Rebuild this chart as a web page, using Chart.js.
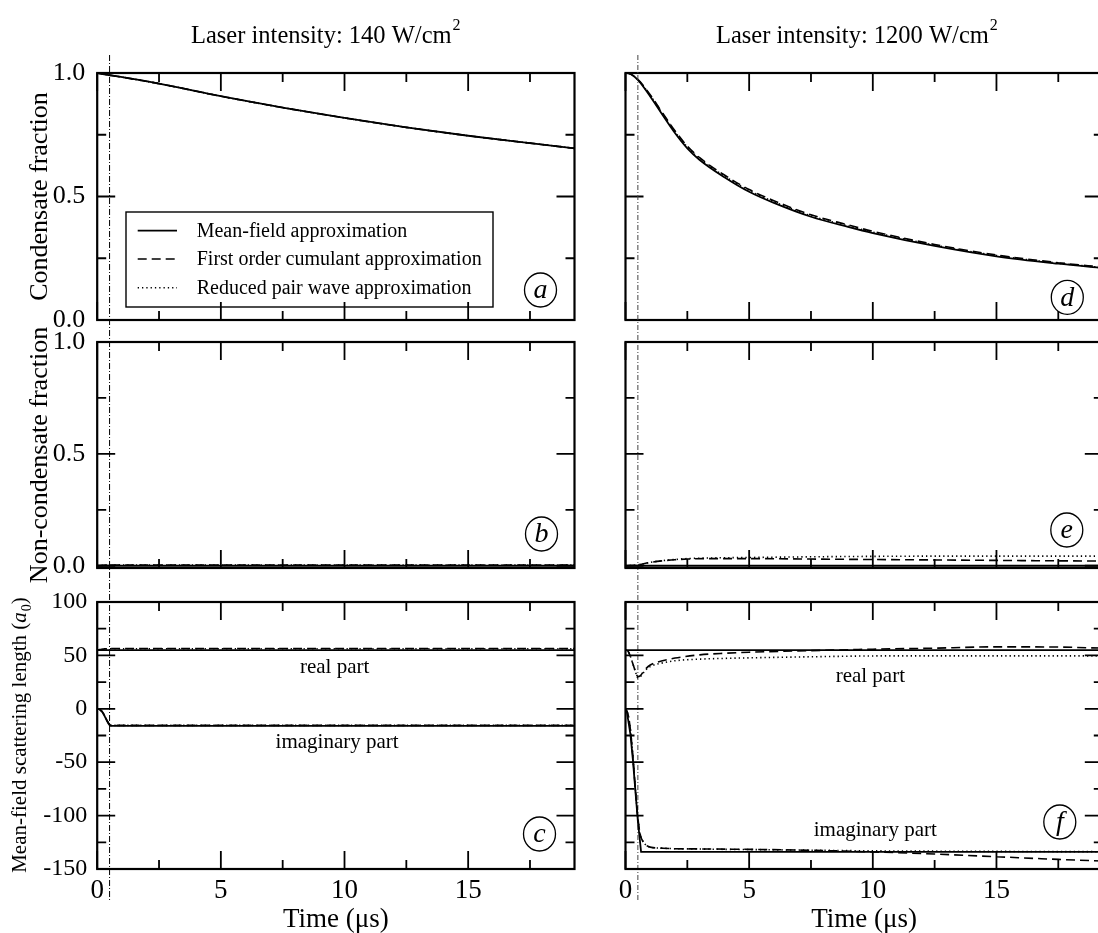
<!DOCTYPE html>
<html><head><meta charset="utf-8">
<script src="https://cdn.jsdelivr.net/npm/chart.js@4.4.1/dist/chart.umd.min.js"></script>
<style>
html,body{margin:0;padding:0;background:#fff;overflow:hidden;width:1098px;height:933px;}
canvas{position:absolute;left:0;top:0;}
</style></head><body>
<canvas id="pa" width="1110" height="940"></canvas>
<canvas id="pb" width="1110" height="940"></canvas>
<canvas id="pc" width="1110" height="940"></canvas>
<canvas id="pd" width="1110" height="940"></canvas>
<canvas id="pe" width="1110" height="940"></canvas>
<canvas id="pf" width="1110" height="940"></canvas>
<script>
// ---------------- data ----------------
const timeMax = 19.3;
const pulseEnd = 0.5;
const xMajor = [0, 5, 10, 15];
const xMinor = [2.5, 7.5, 12.5, 17.5];
const fracMajor = [0, 0.5, 1];
const fracMinor = [0.25, 0.75];
const scatMajor = [-150, -100, -50, 0, 50, 100];
const scatMinor = [-125, -75, -25, 25, 75];
const legendNames = ['Mean-field approximation', 'First order cumulant approximation', 'Reduced pair wave approximation'];
const columnTitles = ['Laser intensity: 140 W/cm', 'Laser intensity: 1200 W/cm'];
const titleSup = '2';
const yTitles = ['Condensate fraction', 'Non-condensate fraction'];
const scatTitle = ['Mean-field scattering length (', 'a', '0', ')'];
const xTitle = 'Time (\u03bcs)';
const partLabels = ['real part', 'imaginary part'];
const panelLetters = ['a', 'b', 'c', 'd', 'e', 'f'];

// (a) condensate fraction, 140 W/cm^2
const tA = [0, 2.5, 5, 7.5, 10, 12.5, 15, 17.5, 19.3];
const condLowMF  = [1.0, 0.957, 0.906, 0.860, 0.818, 0.780, 0.746, 0.716, 0.695];
const condLowFOC = [1.0, 0.957, 0.906, 0.860, 0.818, 0.780, 0.746, 0.716, 0.695];
const condLowRPW = [1.0, 0.957, 0.906, 0.860, 0.818, 0.780, 0.746, 0.716, 0.695];

// (b) non-condensate fraction, 140 W/cm^2
const tB = [0, 0.25, 0.5, 1, 19.3];
const nonLowMF  = [0, 0, 0, 0, 0];
const nonLowFOC = [0, 0.002, 0.003, 0.003, 0.003];
const nonLowRPW = [0, 0.002, 0.003, 0.003, 0.003];

// (c) scattering length, 140 W/cm^2
const tC = [0, 0.1, 0.2, 0.3, 0.4, 0.5, 0.55, 19.3];
const realLowMF  = [55, 55, 55, 55, 55, 55, 55, 55];
const realLowFOC = [55, 55.4, 55.8, 56.1, 56.3, 56.4, 56.4, 56.4];
const realLowRPW = [55, 55.3, 55.6, 55.9, 56.1, 56.2, 56.2, 56.2];
const imagLowMF  = [0, -0.6, -2.8, -6.8, -11.5, -15.2, -16, -16];
const imagLowFOC = [0, -0.6, -2.8, -6.6, -11.2, -14.8, -15.5, -15.5];
const imagLowRPW = [0, -0.6, -2.8, -6.6, -11.2, -14.8, -15.5, -15.5];

// (d) condensate fraction, 1200 W/cm^2
const tD = [0, 0.2, 0.5, 1, 1.5, 2, 2.5, 3, 4, 5, 6, 7.5, 9, 10, 12.5, 15, 17.5, 19.3];
const condHighMF  = [1.0, 0.996, 0.972, 0.905, 0.830, 0.757, 0.695, 0.648, 0.578, 0.519, 0.474, 0.418, 0.377, 0.352, 0.300, 0.258, 0.228, 0.210];
const condHighFOC = [1.0, 0.996, 0.974, 0.912, 0.838, 0.766, 0.704, 0.657, 0.587, 0.528, 0.483, 0.426, 0.385, 0.359, 0.306, 0.263, 0.232, 0.214];
const condHighRPW = [1.0, 0.996, 0.973, 0.909, 0.835, 0.762, 0.700, 0.653, 0.583, 0.524, 0.479, 0.422, 0.381, 0.356, 0.303, 0.261, 0.230, 0.212];

// (e) non-condensate fraction, 1200 W/cm^2
const tE = [0, 0.5, 1, 1.5, 2, 2.5, 3.5, 5, 7.5, 10, 12.5, 15, 17.5, 19.3];
const nonHighMF  = [0, 0, 0, 0, 0, 0, 0, 0, 0, 0, 0, 0, 0, 0];
const nonHighFOC = [0, 0.004, 0.015, 0.022, 0.027, 0.030, 0.032, 0.032, 0.030, 0.028, 0.026, 0.024, 0.022, 0.021];
const nonHighRPW = [0, 0.004, 0.015, 0.023, 0.028, 0.032, 0.035, 0.037, 0.040, 0.042, 0.043, 0.043, 0.043, 0.043];

// (f) scattering length, 1200 W/cm^2
const tFmf = [0, 0.05, 0.2, 0.3, 0.4, 0.5, 0.63, 19.3];
const realHighMF = [55, 55, 55, 55, 55, 55, 55, 55];
const imagHighMF = [0, -2, -24, -48, -77, -105, -134, -134];
const tF = [0, 0.1, 0.2, 0.3, 0.4, 0.5, 0.6, 0.7, 0.8, 1, 1.5, 2, 3, 4, 5, 7.5, 10, 12.5, 15, 17.5, 19.3];
const realHighFOC = [55, 54, 49, 42, 35, 30, 31, 34, 37, 41, 45, 47.5, 50.5, 52, 53, 54.5, 55.8, 56.8, 58, 57.8, 56.8];
const realHighRPW = [55, 54, 49, 42, 35, 29, 30, 33, 36, 39.5, 43, 45, 46.5, 47.2, 47.7, 48.7, 49.5, 49.6, 49.6, 49.6, 49.6];
const imagHighFOC = [0, -5, -20, -45, -75, -102, -118, -124, -127, -129.5, -130.5, -131, -131.2, -131.4, -131.6, -132.5, -134, -136, -138.5, -141, -142.5];
const imagHighRPW = [0, -5, -20, -45, -75, -102, -118, -124, -127, -129.5, -130.5, -131, -131.3, -131.6, -131.8, -132.4, -133, -133.3, -133.5, -133.7, -133.8];

// ---------------- layout / style ----------------
const W = 1110, H = 940;
const SERIF = '"Liberation Serif", "Times New Roman", serif';
const colLeft = [97.2, 625.5], colRight = [574.5, 1102.8];
const rowTop = [73, 342, 602], rowBottom = [320, 568, 869];
const STY = [
  {dash: [], w: 1.8},
  {dash: [9, 5], w: 1.6},
  {dash: [1.3, 3], w: 1.6}
];

function ds(xs, ys, k, linear) {
  return {
    data: xs.map((x, i) => ({x: x, y: ys[i]})),
    borderColor: '#000', borderWidth: STY[k].w, borderDash: STY[k].dash,
    pointRadius: 0, fill: false,
    cubicInterpolationMode: linear ? 'default' : 'monotone',
    tension: 0
  };
}

function makeDecor(cfg) {
  return {
    id: 'decor',
    afterDraw(chart) {
      const {ctx, chartArea: ca, scales} = chart;
      const x = scales.x, y = scales.y;
      ctx.save();
      ctx.strokeStyle = '#000'; ctx.fillStyle = '#000';
      // ticks (inward, all four sides)
      ctx.setLineDash([]); ctx.lineWidth = 1.8;
      ctx.beginPath();
      const xt = (v, L) => { const p = x.getPixelForValue(v);
        ctx.moveTo(p, ca.top); ctx.lineTo(p, ca.top + L);
        ctx.moveTo(p, ca.bottom); ctx.lineTo(p, ca.bottom - L); };
      const yt = (v, L) => { const p = y.getPixelForValue(v);
        ctx.moveTo(ca.left, p); ctx.lineTo(ca.left + L, p);
        ctx.moveTo(ca.right, p); ctx.lineTo(ca.right - L, p); };
      xMajor.forEach(v => xt(v, 18)); xMinor.forEach(v => xt(v, 9));
      cfg.yMajor.forEach(v => yt(v, 18)); cfg.yMinor.forEach(v => yt(v, 9));
      ctx.stroke();
      // frame
      ctx.lineWidth = 2.2;
      ctx.strokeRect(ca.left, ca.top, ca.right - ca.left, ca.bottom - ca.top);
      // circled letter
      const lx = ca.right - cfg.letter[0], ly = ca.bottom - cfg.letter[1];
      ctx.lineWidth = 1.3;
      ctx.beginPath(); ctx.ellipse(lx, ly, 16, 17, 0, 0, Math.PI * 2); ctx.stroke();
      ctx.font = 'italic 28px ' + SERIF; ctx.textAlign = 'center'; ctx.textBaseline = 'middle';
      ctx.fillText(cfg.letterText, lx, ly + 1);
      // part labels
      if (cfg.parts) {
        ctx.font = '21px ' + SERIF;
        cfg.parts.forEach((p, i) => ctx.fillText(partLabels[i], x.getPixelForValue(p[0]), y.getPixelForValue(p[1])));
      }
      // legend
      if (cfg.legend) {
        const bx = ca.left + 28.8, by = ca.top + 139, bw = 367, bh = 95;
        ctx.lineWidth = 1.4; ctx.setLineDash([]);
        ctx.strokeRect(bx, by, bw, bh);
        const rows = [18.7, 47, 75.7];
        ctx.font = '20px ' + SERIF; ctx.textAlign = 'left'; ctx.textBaseline = 'middle';
        legendNames.forEach((n, i) => {
          ctx.setLineDash(STY[i].dash); ctx.lineWidth = STY[i].w;
          ctx.beginPath(); ctx.moveTo(bx + 11.7, by + rows[i]); ctx.lineTo(bx + 51, by + rows[i]); ctx.stroke();
          ctx.fillText(n, bx + 70.7, by + rows[i] + 1);
        });
        ctx.setLineDash([]);
      }
      // vertical dash-dot line at end of pulse, spanning the column
      if (cfg.vline) {
        const px = x.getPixelForValue(pulseEnd);
        ctx.strokeStyle = cfg.vline.color; ctx.lineWidth = 1;
        ctx.setLineDash(cfg.vline.dash);
        ctx.beginPath(); ctx.moveTo(px, 55); ctx.lineTo(px, 902); ctx.stroke();
        ctx.setLineDash([]); ctx.strokeStyle = '#000';
      }
      // column title with superscript
      if (cfg.title) {
        ctx.textAlign = 'left'; ctx.textBaseline = 'alphabetic';
        ctx.font = '24.5px ' + SERIF;
        ctx.fillText(cfg.title, cfg.titleX, 43);
        const tw = ctx.measureText(cfg.title).width;
        ctx.font = '16px ' + SERIF;
        ctx.fillText(titleSup, cfg.titleX + tw + 1, 30);
      }
      // rich rotated y title for scattering length
      if (cfg.scatTitle) {
        ctx.translate(19, (ca.top + ca.bottom) / 2);
        ctx.rotate(-Math.PI / 2);
        const segs = [
          {t: scatTitle[0], f: '21px ' + SERIF, dy: 7},
          {t: scatTitle[1], f: 'italic 21px ' + SERIF, dy: 7},
          {t: scatTitle[2], f: '14px ' + SERIF, dy: 12},
          {t: scatTitle[3], f: '21px ' + SERIF, dy: 7}
        ];
        let tot = 0;
        segs.forEach(s => { ctx.font = s.f; s.w = ctx.measureText(s.t).width; tot += s.w; });
        let xx = -tot / 2;
        ctx.textAlign = 'left'; ctx.textBaseline = 'alphabetic';
        segs.forEach(s => { ctx.font = s.f; ctx.fillText(s.t, xx, s.dy); xx += s.w + (s.t === 'a' ? 1 : 0); });
      }
      ctx.restore();
    }
  };
}

function makePanel(id, col, row, datasets, cfg) {
  const isFrac = row < 2;
  const yMajor = isFrac ? fracMajor : scatMajor;
  const yMinor = isFrac ? fracMinor : scatMinor;
  cfg.yMajor = yMajor; cfg.yMinor = yMinor;
  cfg.letterText = panelLetters[col * 3 + row];
  const yFont = isFrac ? 26 : 24;
  new Chart(document.getElementById(id), {
    type: 'line',
    data: {datasets: datasets},
    options: {
      responsive: false, animation: false, devicePixelRatio: 1,
      events: [],
      layout: {padding: {
        left: col === 0 ? 0 : colLeft[1],
        right: W - colRight[col],
        top: rowTop[row],
        bottom: row === 2 ? 0 : H - rowBottom[row]
      }},
      plugins: {legend: {display: false}, tooltip: {enabled: false}},
      scales: {
        x: {
          type: 'linear', min: 0, max: timeMax,
          grid: {display: false, drawTicks: false}, border: {display: false},
          ticks: {display: row === 2, autoSkip: false, maxRotation: 0, color: '#000', padding: 6,
                  font: {family: SERIF, size: 27}, callback: v => String(v)},
          afterBuildTicks: s => { s.ticks = xMajor.map(v => ({value: v})); },
          afterFit: s => { s.height = row === 2 ? H - rowBottom[2] : 0; },
          title: {display: row === 2, text: xTitle, color: '#000',
                  font: {family: SERIF, size: 27}, padding: {top: 0, bottom: 3.8}}
        },
        y: {
          type: 'linear', min: cfg.yMin, max: cfg.yMax,
          grid: {display: false, drawTicks: false}, border: {display: false},
          ticks: {display: col === 0, autoSkip: false, color: '#000', padding: isFrac ? 12 : 10,
                  font: {family: SERIF, size: yFont},
                  callback: v => isFrac ? v.toFixed(1) : String(v)},
          afterBuildTicks: s => { s.ticks = yMajor.map(v => ({value: v})); },
          afterFit: s => { s.width = col === 0 ? colLeft[0] : 0; },
          title: {display: col === 0 && isFrac, text: isFrac ? yTitles[row] : '', color: '#000',
                  font: {family: SERIF, size: 26}, padding: {top: 24.4, bottom: 0}}
        }
      }
    },
    plugins: [makeDecor(cfg)]
  });
}

// (a)
makePanel('pa', 0, 0, [
  ds(tA, condLowMF, 0), ds(tA, condLowFOC, 1), ds(tA, condLowRPW, 2)
], {yMin: 0, yMax: 1, letter: [34, 30], legend: true,
    vline: {color: '#000', dash: [6, 2, 1, 2]}, title: columnTitles[0], titleX: 191});
// (b)
makePanel('pb', 0, 1, [
  ds(tB, nonLowMF, 0), ds(tB, nonLowFOC, 1), ds(tB, nonLowRPW, 2)
], {yMin: -0.01, yMax: 1, letter: [33, 34]});
// (c)
makePanel('pc', 0, 2, [
  ds(tC, realLowMF, 0), ds(tC, realLowFOC, 1), ds(tC, realLowRPW, 2),
  ds(tC, imagLowMF, 0), ds(tC, imagLowFOC, 1), ds(tC, imagLowRPW, 2)
], {yMin: -150, yMax: 100, letter: [35, 35], parts: [[9.6, 38.7], [9.7, -32]], scatTitle: true});
// (d)
makePanel('pd', 1, 0, [
  ds(tD, condHighMF, 0), ds(tD, condHighFOC, 1), ds(tD, condHighRPW, 2)
], {yMin: 0, yMax: 1, letter: [35.5, 22.7],
    vline: {color: '#444', dash: [5, 2, 1, 2]}, title: columnTitles[1], titleX: 716});
// (e)
makePanel('pe', 1, 1, [
  ds(tE, nonHighMF, 0), ds(tE, nonHighFOC, 1), ds(tE, nonHighRPW, 2)
], {yMin: -0.01, yMax: 1, letter: [36, 38]});
// (f)
makePanel('pf', 1, 2, [
  ds(tFmf, realHighMF, 0, true), ds(tF, realHighFOC, 1), ds(tF, realHighRPW, 2),
  ds(tFmf, imagHighMF, 0, true), ds(tF, imagHighFOC, 1), ds(tF, imagHighRPW, 2)
], {yMin: -150, yMax: 100, letter: [43, 47], parts: [[9.9, 30], [10.1, -114]]});
</script>
</body></html>
